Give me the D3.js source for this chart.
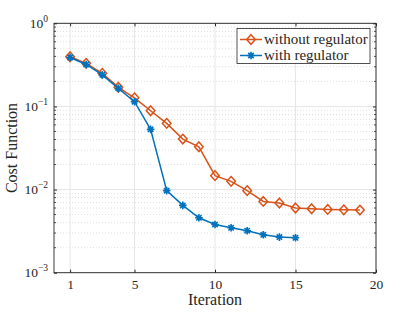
<!DOCTYPE html>
<html><head><meta charset="utf-8">
<script src="https://cdn.jsdelivr.net/npm/d3@7"></script>
<style>body{margin:0;background:#fff}svg{display:block}text{font-family:"Liberation Serif","DejaVu Serif",serif;fill:#262626}</style>
</head><body><svg id="c" width="415" height="312"></svg>
<script>
const iterWithout = [1,2,3,4,5,6,7,8,9,10,11,12,13,14,15,16,17,18,19];
const costWithout = [0.396,0.33,0.25,0.17,0.127,0.0888,0.0626,0.0405,0.0327,0.0147,0.01255,0.0097,0.0072,0.0069,0.0060,0.00588,0.00577,0.0057,0.00567];
const iterWith = [1,2,3,4,5,6,7,8,9,10,11,12,13,14,15];
const costWith = [0.388,0.32,0.24,0.165,0.114,0.053,0.0097,0.00645,0.00458,0.0038,0.00347,0.0032,0.00286,0.00268,0.00263];
const xTicks = [1,5,10,15,20];
const yTicks = [1e-3,1e-2,1e-1,1];
const yTickExp = ["−3","−2","−1","0"];
const seriesNames = ["without regulator","with regulator"];
const colors = ["#D95319","#0072BD"];

const L=54,R=376,T=23.3,B=272.7;
const svg=d3.select("#c");
const x=d3.scaleLinear().domain([0,20]).range([L,R]);
const y=d3.scaleLog().domain([1e-3,1]).range([B,T]);

const minors=[];
for(let e=-3;e<0;e++)for(let k=2;k<=9;k++)minors.push(k*Math.pow(10,e));
svg.append("g").selectAll("line").data(minors).join("line")
 .attr("x1",L).attr("x2",R).attr("y1",d=>y(d)).attr("y2",d=>y(d))
 .attr("stroke","#d8d8d8").attr("stroke-width",0.8).attr("stroke-dasharray","1,2");
svg.append("g").selectAll("line").data(yTicks).join("line")
 .attr("x1",L).attr("x2",R).attr("y1",d=>y(d)).attr("y2",d=>y(d))
 .attr("stroke","#e6e6e6").attr("stroke-width",1);
svg.append("g").selectAll("line").data(xTicks).join("line")
 .attr("y1",T).attr("y2",B).attr("x1",d=>x(d)).attr("x2",d=>x(d))
 .attr("stroke","#e6e6e6").attr("stroke-width",1);

const ax=svg.append("g").attr("transform",`translate(0,${B})`)
 .call(d3.axisBottom(x).tickValues(xTicks).tickSize(-3).tickPadding(7).tickFormat(d3.format("d")));
ax.select(".domain").remove();
ax.selectAll("line").attr("stroke","#262626");
ax.selectAll("text").style("font-size","13.5px").attr("fill","#262626");
const axT=svg.append("g").attr("transform",`translate(0,${T})`)
 .call(d3.axisTop(x).tickValues(xTicks).tickSize(-3).tickFormat(""));
axT.select(".domain").remove(); axT.selectAll("line").attr("stroke","#262626");

const ayL=svg.append("g").attr("transform",`translate(${L},0)`)
 .call(d3.axisLeft(y).tickValues(yTicks).tickSize(-3).tickFormat(""));
ayL.select(".domain").remove(); ayL.selectAll("line").attr("stroke","#262626");
const ayR=svg.append("g").attr("transform",`translate(${R},0)`)
 .call(d3.axisRight(y).tickValues(yTicks).tickSize(-3).tickFormat(""));
ayR.select(".domain").remove(); ayR.selectAll("line").attr("stroke","#262626");
[L,R].forEach((px,i)=>{
 svg.append("g").selectAll("line").data(minors).join("line")
  .attr("x1",px).attr("x2",px+(i?-2:2)).attr("y1",d=>y(d)).attr("y2",d=>y(d))
  .attr("stroke","#262626").attr("stroke-width",0.8);
});
svg.append("rect").attr("x",L).attr("y",T).attr("width",R-L).attr("height",B-T)
 .attr("fill","none").attr("stroke","#262626").attr("stroke-width",0.9);

const yl=svg.append("g");
yTicks.forEach((v,i)=>{
 const t=yl.append("text").attr("x",L-6).attr("y",y(v)+4.5).attr("text-anchor","end").style("font-size","13.5px");
 t.append("tspan").text("10");
 t.append("tspan").attr("dy",-6).style("font-size","9.5px").text(yTickExp[i]);
});

svg.append("text").attr("x",(L+R)/2).attr("y",305).attr("text-anchor","middle").style("font-size","16px").text("Iteration");
svg.append("text").attr("transform",`translate(17,${(T+B)/2}) rotate(-90)`).attr("text-anchor","middle").style("font-size","16px").text("Cost Function");

const line=d3.line().x(d=>x(d[0])).y(d=>y(d[1]));
const dW=iterWithout.map((v,i)=>[v,costWithout[i]]);
const dR=iterWith.map((v,i)=>[v,costWith[i]]);

function diamond(g,cx,cy,c){g.append("path").attr("d",`M${cx},${cy-4.8}L${cx+4.3},${cy}L${cx},${cy+4.8}L${cx-4.3},${cy}Z`).attr("fill","none").attr("stroke",c).attr("stroke-width",1.5);}
function star(g,cx,cy,c){
 const r=3.8;let p="";
 [0,45,90,135].forEach(a=>{const rad=a*Math.PI/180;p+=`M${cx-r*Math.cos(rad)},${cy-r*Math.sin(rad)}L${cx+r*Math.cos(rad)},${cy+r*Math.sin(rad)}`;});
 g.append("path").attr("d",p).attr("stroke",c).attr("stroke-width",1.6).attr("fill","none");
}

svg.append("path").datum(dW).attr("d",line).attr("fill","none").attr("stroke",colors[0]).attr("stroke-width",1.5);
const gW=svg.append("g"); dW.forEach(d=>diamond(gW,x(d[0]),y(d[1]),colors[0]));
svg.append("path").datum(dR).attr("d",line).attr("fill","none").attr("stroke",colors[1]).attr("stroke-width",1.5);
const gR=svg.append("g"); dR.forEach(d=>star(gR,x(d[0]),y(d[1]),colors[1]));

const lg=svg.append("g");
lg.append("rect").attr("x",237).attr("y",28.5).attr("width",133).attr("height",35).attr("fill","#fff").attr("stroke","#262626").attr("stroke-width",0.8);
[0,1].forEach(i=>{
 const yy=39.5+i*16;
 lg.append("line").attr("x1",240).attr("x2",262).attr("y1",yy).attr("y2",yy).attr("stroke",colors[i]).attr("stroke-width",1.5);
 if(i===0)diamond(lg,251,yy,colors[0]);else star(lg,251,yy,colors[1]);
 lg.append("text").attr("x",264).attr("y",yy+4.5).style("font-size","15px").text(seriesNames[i]);
});
</script></body></html>
